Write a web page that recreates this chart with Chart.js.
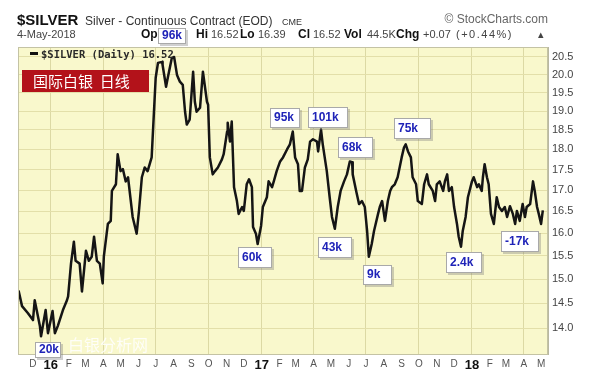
<!DOCTYPE html>
<html>
<head>
<meta charset="utf-8">
<script src="https://cdn.jsdelivr.net/npm/chart.js@4.4.0/dist/chart.umd.min.js"></script>
<style>
    html, body { margin: 0; padding: 0; background: #fff; }
    #wrap { width: 600px; height: 386px; }
</style>
</head>
<body>
<div id="wrap"><canvas id="chart" width="600" height="386"></canvas></div>
<script>
//======================================================================================================================
// Data: $SILVER daily close
//======================================================================================================================

    var dates = [
        '2015-11-06', '2015-11-12', '2015-11-22', '2015-12-01', '2015-12-04', '2015-12-13', '2015-12-15', '2015-12-23', '2015-12-27',
        '2016-01-04', '2016-01-08', '2016-01-13', '2016-01-22', '2016-01-29', '2016-01-31', '2016-02-05', '2016-02-10', '2016-02-13', '2016-02-20', '2016-02-24',
        '2016-03-02', '2016-03-07', '2016-03-12', '2016-03-16', '2016-03-21', '2016-03-26', '2016-03-31',
        '2016-04-02', '2016-04-09', '2016-04-14', '2016-04-16', '2016-04-23', '2016-04-26',
        '2016-05-01', '2016-05-05', '2016-05-10', '2016-05-14', '2016-05-22', '2016-05-29',
        '2016-06-02', '2016-06-07', '2016-06-12', '2016-06-17', '2016-06-24',
        '2016-07-01', '2016-07-05', '2016-07-12', '2016-07-13', '2016-07-19', '2016-07-22', '2016-07-29',
        '2016-08-02', '2016-08-07', '2016-08-12', '2016-08-17', '2016-08-21', '2016-08-24', '2016-08-29',
        '2016-09-04', '2016-09-07', '2016-09-10', '2016-09-16', '2016-09-21', '2016-09-28', '2016-09-30',
        '2016-10-03', '2016-10-08', '2016-10-12', '2016-10-17', '2016-10-24', '2016-10-27',
        '2016-11-02', '2016-11-03', '2016-11-07', '2016-11-10', '2016-11-14', '2016-11-19', '2016-11-22', '2016-11-28',
        '2016-12-01', '2016-12-06', '2016-12-10', '2016-12-15', '2016-12-17', '2016-12-22', '2016-12-25', '2016-12-31',
        '2017-01-03', '2017-01-10', '2017-01-13', '2017-01-19', '2017-01-22', '2017-01-27',
        '2017-02-02', '2017-02-07', '2017-02-14', '2017-02-19', '2017-02-24', '2017-02-28',
        '2017-03-05', '2017-03-08', '2017-03-12', '2017-03-17', '2017-03-22', '2017-03-26', '2017-03-31',
        '2017-04-07', '2017-04-09', '2017-04-14', '2017-04-17', '2017-04-24', '2017-04-29',
        '2017-05-03', '2017-05-08', '2017-05-13', '2017-05-18', '2017-05-24', '2017-05-29',
        '2017-06-03', '2017-06-07', '2017-06-08', '2017-06-14', '2017-06-19', '2017-06-24', '2017-06-29',
        '2017-07-03', '2017-07-06', '2017-07-11', '2017-07-15', '2017-07-22', '2017-07-25', '2017-07-29',
        '2017-08-03', '2017-08-08', '2017-08-12', '2017-08-15', '2017-08-20', '2017-08-25',
        '2017-09-01', '2017-09-05', '2017-09-08', '2017-09-12', '2017-09-17', '2017-09-20', '2017-09-26', '2017-09-29',
        '2017-10-06', '2017-10-10', '2017-10-15', '2017-10-18', '2017-10-25', '2017-10-29',
        '2017-11-01', '2017-11-06', '2017-11-12', '2017-11-15', '2017-11-19', '2017-11-22', '2017-11-27',
        '2017-12-01', '2017-12-06', '2017-12-09', '2017-12-13', '2017-12-16', '2017-12-21', '2017-12-25',
        '2018-01-01', '2018-01-04', '2018-01-10', '2018-01-13', '2018-01-18', '2018-01-20', '2018-01-23', '2018-01-27', '2018-01-30',
        '2018-02-03', '2018-02-08', '2018-02-13', '2018-02-17', '2018-02-22', '2018-02-27',
        '2018-03-03', '2018-03-08', '2018-03-13', '2018-03-17', '2018-03-20', '2018-03-25', '2018-03-30',
        '2018-04-03', '2018-04-06', '2018-04-12', '2018-04-17', '2018-04-20', '2018-04-24', '2018-04-27',
        '2018-05-01', '2018-05-04'
    ];

    var closes = [
        14.76, 14.44, 14.30, 14.16, 14.56, 14.04, 13.84, 14.36, 13.90,
        14.34, 13.90, 14.04, 14.36, 14.56, 14.64, 15.33, 15.81, 15.39, 15.33, 14.74,
        15.61, 15.39, 15.48, 15.92, 15.39, 15.33, 14.91,
        15.48, 16.21, 16.28, 16.98, 17.14, 17.88,
        17.46, 17.51, 17.21, 17.31, 16.37, 15.99,
        16.51, 17.31, 17.55, 17.46, 17.80,
        19.91, 20.33, 20.36, 20.27, 19.66, 19.91, 20.47,
        20.50, 19.99, 19.80, 19.71, 18.98, 18.64, 18.77,
        20.08, 19.25, 18.98, 19.09, 20.08, 19.25, 19.17,
        17.80, 17.38, 17.46, 17.55, 17.75, 17.88,
        18.46, 18.69, 18.20, 18.72, 17.07, 16.74, 16.44, 16.60,
        16.51, 17.14, 17.26, 17.07, 16.14, 15.99, 15.76, 16.17,
        16.60, 16.83, 17.21, 17.07, 17.21, 17.46,
        17.70, 17.80, 18.00, 18.13, 18.46, 17.80,
        17.63, 16.98, 16.98, 17.55, 17.75, 18.20, 18.26,
        18.20, 17.95, 18.51, 18.13, 17.46, 16.83,
        16.37, 16.10, 16.60, 16.98, 17.21, 17.38,
        17.70, 17.68, 17.38, 16.98, 16.67, 16.74, 16.60,
        16.05, 15.48, 15.76, 16.05, 16.44, 16.60, 16.74,
        16.28, 16.74, 16.98, 17.07, 17.14, 17.31,
        17.80, 18.05, 18.13, 17.95, 17.80, 17.31, 17.14, 16.74,
        16.67, 17.14, 17.38, 17.14, 16.98, 16.74,
        17.14, 17.21, 16.98, 17.21, 17.38, 16.98, 17.07,
        16.60, 16.21, 15.92, 15.70, 16.05, 16.37, 16.83,
        17.21, 17.31, 17.07, 17.14, 16.98, 17.31, 17.63, 17.31, 17.14,
        16.44, 16.21, 16.83, 16.60, 16.51, 16.60,
        16.37, 16.62, 16.44, 16.21, 16.51, 16.28, 16.67,
        16.37, 16.60, 16.67, 17.21, 16.98, 16.60, 16.44,
        16.21, 16.52
    ];

    var yTicks = [14.0, 14.5, 15.0, 15.5, 16.0, 16.5, 17.0, 17.5, 18.0, 18.5, 19.0, 19.5, 20.0, 20.5];

    // one label per month, Dec 2015 .. May 2018
    var xTickLabels = ['D', '16', 'F', 'M', 'A', 'M', 'J', 'J', 'A', 'S', 'O', 'N',
                       'D', '17', 'F', 'M', 'A', 'M', 'J', 'J', 'A', 'S', 'O', 'N',
                       'D', '18', 'F', 'M', 'A', 'M'];

    // volume call-outs (text only) and where the boxes sit
    var notes = [
        { text: '96k',  box: [158, 28, 28, 16] },
        { text: '95k',  box: [270, 108, 30, 20] },
        { text: '101k', box: [308, 107, 40, 21] },
        { text: '68k',  box: [338, 137, 35, 21] },
        { text: '75k',  box: [394, 118, 37, 21] },
        { text: '60k',  box: [238, 247, 34, 21] },
        { text: '43k',  box: [318, 237, 34, 21] },
        { text: '9k',   box: [363, 265, 29, 20] },
        { text: '2.4k', box: [446, 252, 36, 21] },
        { text: '-17k', box: [501, 231, 38, 21] },
        { text: '20k',  box: [35, 342, 26, 16] }
    ];

//======================================================================================================================
// Helpers
//======================================================================================================================

    var DAY = 86400000;
    var SANS = '"Liberation Sans", Arial, sans-serif';

    function dayNum(s) {
        var p = s.split('-');
        return Date.UTC(+p[0], +p[1] - 1, +p[2]) / DAY;
    }

    var monthStarts = xTickLabels.map(function(l, i) {
        return Date.UTC(2015, 11 + i, 1) / DAY;
    });

    var points = dates.map(function(d, i) {
        return { x: dayNum(d), y: closes[i] };
    });

    function drawNote(c, n) {
        var b = n.box;
        c.fillStyle = 'rgba(120,120,120,0.35)';
        c.fillRect(b[0] + 2, b[1] + 2, b[2], b[3]);
        c.fillStyle = '#fff';
        c.fillRect(b[0], b[1], b[2], b[3]);
        c.strokeStyle = '#a9a9a9';
        c.lineWidth = 1;
        c.strokeRect(b[0] + 0.5, b[1] + 0.5, b[2] - 1, b[3] - 1);
        c.fillStyle = '#1f23b8';
        c.font = 'bold 12px ' + SANS;
        c.textBaseline = 'middle';
        c.fillText(n.text, b[0] + 4, b[1] + b[3] / 2);
    }

    var decor = {
        id: 'decor',
        beforeDraw: function(chart) {
            var c = chart.ctx, a = chart.chartArea;
            c.save();
            c.fillStyle = '#fff';
            c.fillRect(0, 0, chart.width, chart.height);
            c.fillStyle = '#f9f8cc';
            c.fillRect(a.left, a.top, a.right - a.left, a.bottom - a.top);
            c.restore();
        },
        afterDatasetsDraw: function(chart) {
            var c = chart.ctx, a = chart.chartArea;
            c.save();

            c.strokeStyle = '#c4c3a4';
            c.lineWidth = 1;
            c.strokeRect(a.left + 0.5, a.top + 0.5, a.right - a.left - 1, a.bottom - a.top);

            // legend row
            c.fillStyle = '#111';
            c.fillRect(30, 52, 8, 3);
            c.font = 'bold 10.5px "DejaVu Sans Mono", monospace';
            c.fillStyle = '#2a2a2a';
            c.textBaseline = 'alphabetic';
            c.fillText('$SILVER (Daily) 16.52', 41, 58);

            // red tag
            c.fillStyle = '#b3121a';
            c.fillRect(22, 70, 127, 22);
            c.fillStyle = '#fff';
            c.font = '15px "Noto Sans CJK SC", sans-serif';
            c.textBaseline = 'middle';
            c.fillText('国际白银  日线', 33, 81);

            // bottom watermark
            c.fillStyle = 'rgba(255,255,255,0.85)';
            c.font = '16px "Noto Sans CJK SC", sans-serif';
            c.fillText('白银分析网', 68, 345);

            notes.slice(1).forEach(function(n) { drawNote(c, n); });
            c.restore();
        },
        afterDraw: function(chart) {
            var c = chart.ctx;
            c.save();
            c.textBaseline = 'alphabetic';
            c.fillStyle = '#111';
            c.font = 'bold 15px ' + SANS;
            c.fillText('$SILVER', 17, 25);
            c.font = '12px ' + SANS;
            c.fillStyle = '#333';
            c.fillText('Silver - Continuous Contract (EOD)', 85, 25);
            c.font = '9px ' + SANS;
            c.fillText('CME', 282, 25);

            c.fillStyle = '#666';
            c.font = '12px ' + SANS;
            c.textAlign = 'right';
            c.fillText('\u00A9 StockCharts.com', 548, 23);
            c.textAlign = 'left';

            var row = [
                ['4-May-2018', 17, false], ['Op', 141, true],
                ['Hi', 196, true], ['16.52', 211, false],
                ['Lo', 240, true], ['16.39', 258, false],
                ['Cl', 298, true], ['16.52', 313, false],
                ['Vol', 344, true], ['44.5K', 367, false],
                ['Chg', 396, true], ['+0.07', 423, false], ['(+0.44%)', 456, false], ['\u25B4', 538, false]
            ];
            row.forEach(function(r) {
                c.font = (r[2] ? 'bold 12px ' : '11px ') + SANS;
                c.fillStyle = r[2] ? '#111' : '#444';
                c.letterSpacing = r[0] === '(+0.44%)' ? '1.5px' : '0px';
                c.fillText(r[0], r[1], 38);
            });
            c.letterSpacing = '0px';

            // 96k box sits on the header line
            drawNote(c, notes[0]);
            c.restore();
        }
    };

//======================================================================================================================
// Chart
//======================================================================================================================

    new Chart(document.getElementById('chart'), {
        type: 'line',
        data: {
            datasets: [{
                data: points,
                borderColor: '#151515',
                borderWidth: 2.5,
                borderJoinStyle: 'round',
                pointRadius: 0,
                tension: 0
            }]
        },
        options: {
            responsive: false,
            devicePixelRatio: 1,
            animation: false,
            layout: {
                padding: { left: 18, top: 47, right: 0, bottom: 0 }
            },
            plugins: {
                legend: { display: false },
                tooltip: { enabled: false }
            },
            scales: {
                x: {
                    type: 'linear',
                    min: dayNum('2015-11-05'),
                    max: dayNum('2018-05-13'),
                    afterBuildTicks: function(scale) {
                        scale.ticks = monthStarts.map(function(v) { return { value: v }; });
                    },
                    afterFit: function(scale) { scale.height = 32; },
                    grid: {
                        drawTicks: false,
                        color: function(ctx) {
                            return ((11 + ctx.index) % 12) % 3 === 0 ? '#dcd9a4' : 'rgba(0,0,0,0)';
                        }
                    },
                    border: { color: '#b9b8a0' },
                    ticks: {
                        autoSkip: false,
                        maxRotation: 0,
                        padding: 4,
                        callback: function(value, index) { return xTickLabels[index]; },
                        color: function(ctx) {
                            return xTickLabels[ctx.index] && xTickLabels[ctx.index].length === 2 ? '#111' : '#555';
                        },
                        font: function(ctx) {
                            var year = xTickLabels[ctx.index] && xTickLabels[ctx.index].length === 2;
                            return { family: SANS, size: year ? 13 : 10, weight: year ? 'bold' : 'normal' };
                        }
                    }
                },
                y: {
                    type: 'logarithmic',
                    position: 'right',
                    min: 13.54,
                    max: 20.79,
                    afterBuildTicks: function(scale) {
                        scale.ticks = yTicks.map(function(v) { return { value: v }; });
                    },
                    afterFit: function(scale) { scale.width = 52; },
                    grid: { drawTicks: false, color: '#e3dfa9' },
                    border: { color: '#b9b8a0' },
                    ticks: {
                        padding: 4,
                        color: '#444',
                        font: { family: SANS, size: 11 },
                        callback: function(v) { return Number(v).toFixed(1); }
                    }
                }
            }
        },
        plugins: [decor]
    });
</script>
</body>
</html>
